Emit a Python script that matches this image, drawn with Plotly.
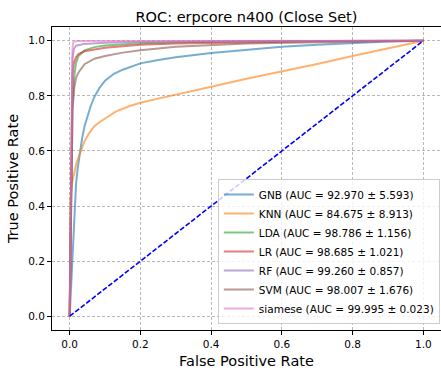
import plotly.graph_objects as go

# ---- data ----
names = ["GNB", "KNN", "LDA", "LR", "RF", "SVM", "siamese"]
auc_mean = ["92.970", "84.675", "98.786", "98.685", "99.260", "98.007", "99.995"]
auc_std = ["5.593", "8.913", "1.156", "1.021", "0.857", "1.676", "0.023"]

gnb_fpr = [0, 0.003, 0.006, 0.01, 0.014, 0.018, 0.023, 0.028, 0.035, 0.042, 0.05, 0.06, 0.07, 0.085, 0.1,
           0.125, 0.15, 0.175, 0.2, 0.25, 0.3, 0.4, 0.5, 0.6, 0.7, 0.8, 0.9, 1.0]
gnb_tpr = [0, 0.08, 0.2, 0.32, 0.41, 0.48, 0.54, 0.59, 0.645, 0.69, 0.725, 0.765, 0.797, 0.83, 0.855,
           0.88, 0.895, 0.907, 0.918, 0.93, 0.94, 0.956, 0.967, 0.978, 0.986, 0.992, 0.997, 1.0]

knn_fpr = [0, 0.002, 0.006, 0.012, 0.02, 0.028, 0.042, 0.055, 0.07, 0.085, 0.1, 0.13, 0.17, 0.2, 0.25,
           0.3, 0.4, 0.5, 0.6, 0.7, 0.8, 0.9, 1.0]
knn_tpr = [0, 0.42, 0.48, 0.52, 0.56, 0.588, 0.635, 0.665, 0.69, 0.705, 0.718, 0.743, 0.763, 0.775, 0.79,
           0.805, 0.833, 0.862, 0.888, 0.916, 0.945, 0.972, 1.0]

lda_fpr = [0, 0.004, 0.008, 0.013, 0.018, 0.025, 0.042, 0.07, 0.1, 0.2, 0.3, 0.5, 1.0]
lda_tpr = [0, 0.5, 0.78, 0.87, 0.92, 0.945, 0.965, 0.977, 0.983, 0.991, 0.995, 0.998, 1.0]

lr_fpr = [0, 0.004, 0.008, 0.012, 0.018, 0.025, 0.042, 0.1, 0.2, 0.3, 0.5, 0.7, 1.0]
lr_tpr = [0, 0.6, 0.88, 0.92, 0.94, 0.952, 0.962, 0.975, 0.986, 0.99, 0.995, 0.998, 1.0]

rf_fpr = [0, 0.004, 0.008, 0.012, 0.018, 0.04, 0.1, 0.2, 0.4, 1.0]
rf_tpr = [0, 0.6, 0.94, 0.97, 0.982, 0.988, 0.993, 0.996, 0.998, 1.0]

svm_fpr = [0, 0.004, 0.008, 0.013, 0.018, 0.025, 0.042, 0.07, 0.1, 0.15, 0.2, 0.3, 0.4, 0.5, 0.7, 1.0]
svm_tpr = [0, 0.5, 0.75, 0.83, 0.865, 0.885, 0.915, 0.935, 0.945, 0.957, 0.966, 0.978, 0.985, 0.99, 0.995, 1.0]

siam_fpr = [0, 0.004, 0.008, 0.01, 0.02, 1.0]
siam_tpr = [0, 0.6, 0.97, 0.995, 0.999, 1.0]

curves = [(gnb_fpr, gnb_tpr), (knn_fpr, knn_tpr), (lda_fpr, lda_tpr), (lr_fpr, lr_tpr),
          (rf_fpr, rf_tpr), (svm_fpr, svm_tpr), (siam_fpr, siam_tpr)]
colors = ["#1f77b4", "#ff7f0e", "#2ca02c", "#d62728", "#9467bd", "#8c564b", "#e377c2"]

chance = [0, 1]
x_ticks = [0.0, 0.2, 0.4, 0.6, 0.8, 1.0]
y_ticks = [0.0, 0.2, 0.4, 0.6, 0.8, 1.0]

fig = go.Figure()
for (fx, ty), n, m, s, c in zip(curves, names, auc_mean, auc_std, colors):
    fig.add_trace(go.Scatter(x=fx, y=ty, mode="lines", name=f"{n} (AUC = {m} ± {s})",
                             line=dict(color=c, width=2), opacity=0.6))
fig.add_trace(go.Scatter(x=chance, y=chance, mode="lines", showlegend=False,
                         line=dict(color="#0000ff", width=1.6, dash="5px,2px")))

font = "DejaVu Sans, Arial, sans-serif"
axis_common = dict(showline=True, linecolor="black", linewidth=1, mirror=True,
                   ticks="outside", ticklen=4, tickcolor="black",
                   showgrid=True, gridcolor="#b8b8b8", gridwidth=1, griddash="3px,2px",
                   zeroline=False, tickfont=dict(size=10.5, color="black"))

fig.update_layout(
    width=441, height=370,
    margin=dict(l=52, r=0, t=27, b=40),
    paper_bgcolor="white", plot_bgcolor="white",
    font=dict(family=font, color="black"),
    title=dict(text="ROC: erpcore n400 (Close Set)", font=dict(size=14.5),
               x=0.5, xref="paper", xanchor="center",
               y=1 - 16.5 / 370, yref="container", yanchor="middle"),
    xaxis=dict(range=[-0.05, 1.05], tickvals=x_ticks, ticktext=[f"{v:.1f}" for v in x_ticks],
               title=dict(text="False Positive Rate", font=dict(size=14.5), standoff=7),
               **axis_common),
    yaxis=dict(range=[-0.05, 1.05], tickvals=y_ticks, ticktext=[f"{v:.1f}" for v in y_ticks],
               title=dict(text="True Positive Rate", font=dict(size=14.5), standoff=6),
               **axis_common),
    legend=dict(x=0.997, xanchor="right", y=0.02, yanchor="bottom",
                bgcolor="rgba(255,255,255,0.8)", bordercolor="#cccccc", borderwidth=1,
                font=dict(size=10.5), tracegroupgap=0),
    showlegend=True,
)

fig.write_html("out.html")
